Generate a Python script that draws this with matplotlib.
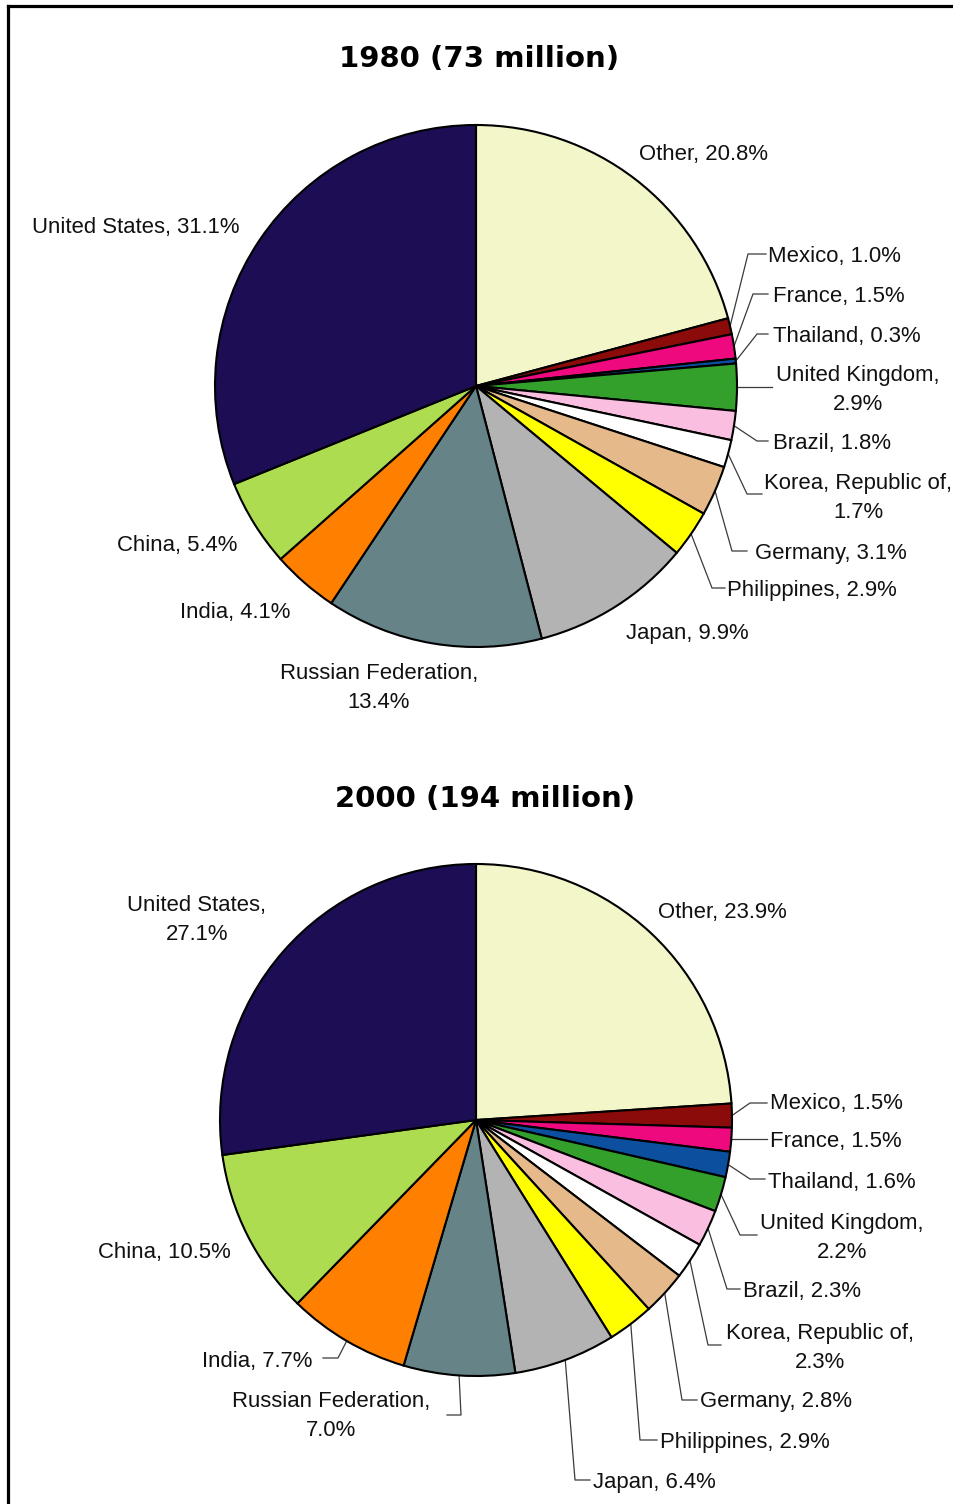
import numpy as np
import matplotlib
matplotlib.use("Agg")
import matplotlib.pyplot as plt
from matplotlib.lines import Line2D

# ---------------- data ----------------
countries = ["Other", "Mexico", "France", "Thailand", "United Kingdom", "Brazil",
             "Korea, Republic of", "Germany", "Philippines", "Japan",
             "Russian Federation", "India", "China", "United States"]
share_1980 = [20.8, 1.0, 1.5, 0.3, 2.9, 1.8, 1.7, 3.1, 2.9, 9.9, 13.4, 4.1, 5.4, 31.1]
share_2000 = [23.9, 1.5, 1.5, 1.6, 2.2, 2.3, 2.3, 2.8, 2.9, 6.4, 7.0, 7.7, 10.5, 27.1]
titles = ["1980 (73 million)", "2000 (194 million)"]
colors = ["#F3F6C8", "#8B0A0A", "#EE0A7E", "#0B4F9E", "#33A02C", "#F9BEE0",
          "#FFFFFF", "#E6B98A", "#FFFF00", "#B3B3B3", "#668487", "#FF8000",
          "#AEDC50", "#1C0D55"]

# ---------------- layout (pixel coordinates, y from top) ----------------
W, H = 954, 1504
pies = [
    dict(values=share_1980, title=titles[0], title_xy=(479, 59), center=(476, 386), radius=261,
         labels={
             "Other": (639, 152, "left", False, None),
             "Mexico": (768, 254, "left", False, (748, 254, 766)),
             "France": (773, 294, "left", False, (753, 294, 768)),
             "Thailand": (773, 334, "left", False, (757, 334, 768)),
             "United Kingdom": (858, 387, "center", True, (None, 387, 772)),
             "Brazil": (773, 441, "left", False, (757, 441, 768)),
             "Korea, Republic of": (858, 496, "center", True, (747, 494, 762)),
             "Germany": (755, 551, "left", False, (732, 551, 747)),
             "Philippines": (727, 588, "left", False, (712, 588, 725)),
             "Japan": (626, 631, "left", False, None),
             "Russian Federation": (379, 686, "center", True, None),
             "India": (180, 610, "left", False, None),
             "China": (117, 543, "left", False, None),
             "United States": (32, 225, "left", False, None),
         }),
    dict(values=share_2000, title=titles[1], title_xy=(485, 799), center=(476, 1120), radius=256,
         labels={
             "Other": (658, 910, "left", False, None),
             "Mexico": (770, 1101, "left", False, (750, 1103, 767)),
             "France": (770, 1139, "left", False, (None, 1139, 767)),
             "Thailand": (768, 1180, "left", False, (750, 1179, 765)),
             "United Kingdom": (842, 1236, "center", True, (740, 1235, 757)),
             "Brazil": (743, 1289, "left", False, (727, 1289, 740)),
             "Korea, Republic of": (820, 1345, "center", True, (708, 1345, 721)),
             "Germany": (700, 1399, "left", False, (682, 1400, 697)),
             "Philippines": (660, 1440, "left", False, (640, 1440, 657)),
             "Japan": (593, 1480, "left", False, (575, 1480, 590)),
             "Russian Federation": (331, 1414, "center", True, (461, 1415, 447)),
             "India": (202, 1359, "left", False, (338, 1358, 323)),
             "China": (98, 1250, "left", False, None),
             "United States": (197, 918, "center", True, None),
         }),
]

LABEL_FONT = dict(family=["Liberation Sans", "DejaVu Sans"], fontsize=15.9, color="#111111")
TEXT_DY = 2.5  # small vertical correction (px) for text centering


def P(x, y):
    """pixel (from top-left) -> data coords"""
    return x, H - y


fig = plt.figure(figsize=(W / 100, H / 100), dpi=100)
ax = fig.add_axes([0, 0, 1, 1])

for pie in pies:
    cx, cy = P(*pie["center"])
    r = pie["radius"]
    vals = np.array(pie["values"], dtype=float)
    wedges, _ = ax.pie(vals, colors=colors, startangle=90, counterclock=False,
                       center=(cx, cy), radius=r,
                       wedgeprops=dict(edgecolor="black", linewidth=1.5, antialiased=True))
    frac = vals / vals.sum()
    cum = np.cumsum(frac) - frac / 2  # mid fraction of each wedge
    tx, ty = P(*pie["title_xy"])
    ax.text(tx, ty, pie["title"], ha="center", va="center", fontsize=21,
            fontweight="bold", family="DejaVu Sans", color="black")
    for i, name in enumerate(countries):
        lx, ly, ha, two, leader = pie["labels"][name]
        v = pie["values"][i]
        txt = f"{name},\n{v:.1f}%" if two else f"{name}, {v:.1f}%"
        X, Y = P(lx, ly + TEXT_DY)
        ax.text(X, Y, txt, ha=ha, va="center", multialignment="center",
                linespacing=1.5, **LABEL_FONT)
        if leader is not None:
            ang = np.deg2rad(90 - 360 * cum[i])
            sx, sy = cx + r * np.cos(ang), cy + r * np.sin(ang)
            ex, ey, endx = leader
            ex = sx if ex is None else ex
            _, EY = P(0, ey)
            ax.add_line(Line2D([sx, ex, endx], [sy, EY, EY], color="#3a3a3a",
                               linewidth=0.9, zorder=0.5))

# frame (left and top border)
ax.add_line(Line2D([8.5, 8.5], [-10, H - 6], color="black", linewidth=2.3,
                   solid_capstyle="projecting", clip_on=False))
ax.add_line(Line2D([8.5, W + 5], [H - 6, H - 6], color="black", linewidth=2.3,
                   solid_capstyle="projecting", clip_on=False))

ax.set_xlim(0, W)
ax.set_ylim(0, H)
ax.set_aspect("auto")
ax.axis("off")

fig.savefig("out.png", dpi=100, facecolor="white")
